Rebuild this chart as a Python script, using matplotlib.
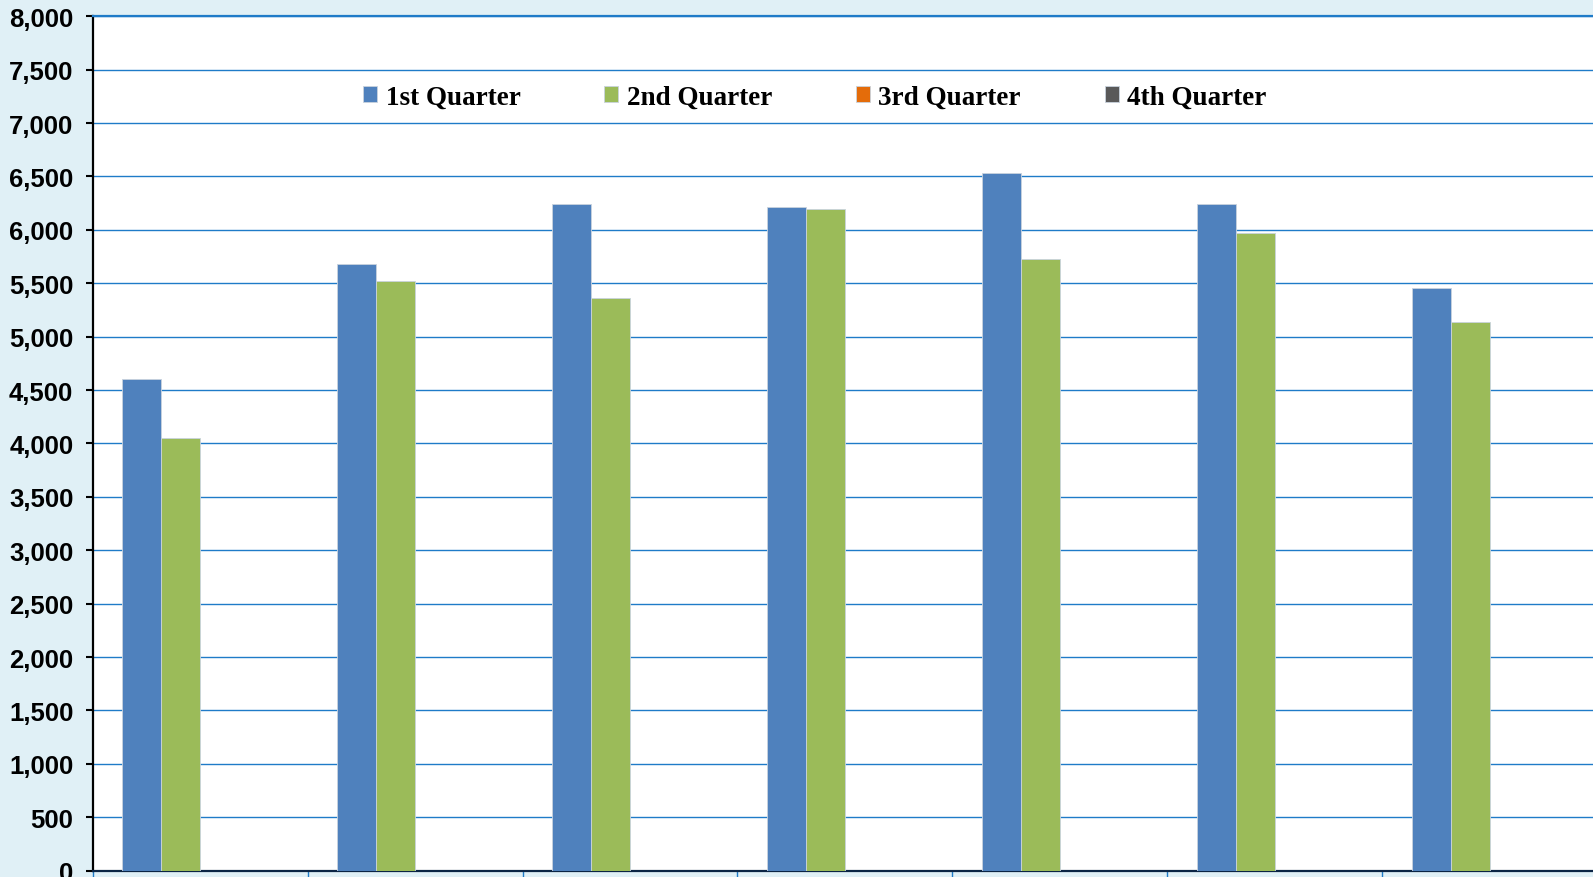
import numpy as np
import matplotlib
matplotlib.use("Agg")
import matplotlib.pyplot as plt
from matplotlib.ticker import FuncFormatter

# data
categories = ["1", "2", "3", "4", "5", "6", "7"]
series_names = ["1st Quarter", "2nd Quarter", "3rd Quarter", "4th Quarter"]
q1 = [4600, 5680, 6240, 6210, 6535, 6240, 5460]
q2 = [4050, 5525, 5365, 6195, 5725, 5975, 5135]
q3 = [0, 0, 0, 0, 0, 0, 0]
q4 = [0, 0, 0, 0, 0, 0, 0]
colors = ["#4F81BD", "#9BBB59", "#E46C0A", "#595959"]

BG = "#E0F0F6"
GRID = "#1F7BC8"


def main():
    fig = plt.figure(figsize=(15.93, 8.78), dpi=100, facecolor=BG)
    ax = fig.add_axes([0.0582, 0.0072, 0.9443, 0.9731])
    ax.set_facecolor("white")

    x = np.arange(len(categories))
    width = 0.1815
    all_series = [q1, q2, q3, q4]
    for i, (vals, name, col) in enumerate(zip(all_series, series_names, colors)):
        offset = (i - 1.5) * width
        ax.bar(x + offset, vals, width, color=col, label=name,
               edgecolor="#C9D3DE", linewidth=0.6, zorder=3)

    ax.set_xlim(-0.5, len(categories) - 0.5)
    ax.set_ylim(0, 8000)
    ax.set_yticks(np.arange(0, 8001, 500))
    ax.yaxis.set_major_formatter(FuncFormatter(lambda v, p: f"{int(v):,}"))
    ax.set_xticks(np.arange(-0.5, len(categories), 1))
    ax.set_xticklabels([])

    ax.grid(axis="y", color=GRID, linewidth=1.0, zorder=0)
    ax.tick_params(axis="y", length=5, width=1.5, color="black", pad=9)
    ax.tick_params(axis="x", length=5, width=1.0, color=GRID, direction="out")
    for lab in ax.get_yticklabels():
        lab.set_fontfamily("Liberation Sans")
        lab.set_fontweight("bold")
        lab.set_fontsize(18.5)

    ax.spines["left"].set_color("black")
    ax.spines["left"].set_linewidth(1.6)
    ax.spines["bottom"].set_color("#0B2545")
    ax.spines["bottom"].set_linewidth(1.6)
    ax.spines["top"].set_color(GRID)
    ax.spines["top"].set_linewidth(1.6)
    ax.spines["right"].set_visible(False)

    ax.legend(loc="center", bbox_to_anchor=(0.48, 0.905), ncol=4,
              frameon=False, handlelength=0.52, handleheight=0.52,
              handletextpad=0.3, columnspacing=3.1,
              prop={"family": "Liberation Serif", "weight": "bold", "size": 19.5})

    fig.savefig("out.png", dpi=100, facecolor=BG)


if __name__ == "__main__":
    main()
